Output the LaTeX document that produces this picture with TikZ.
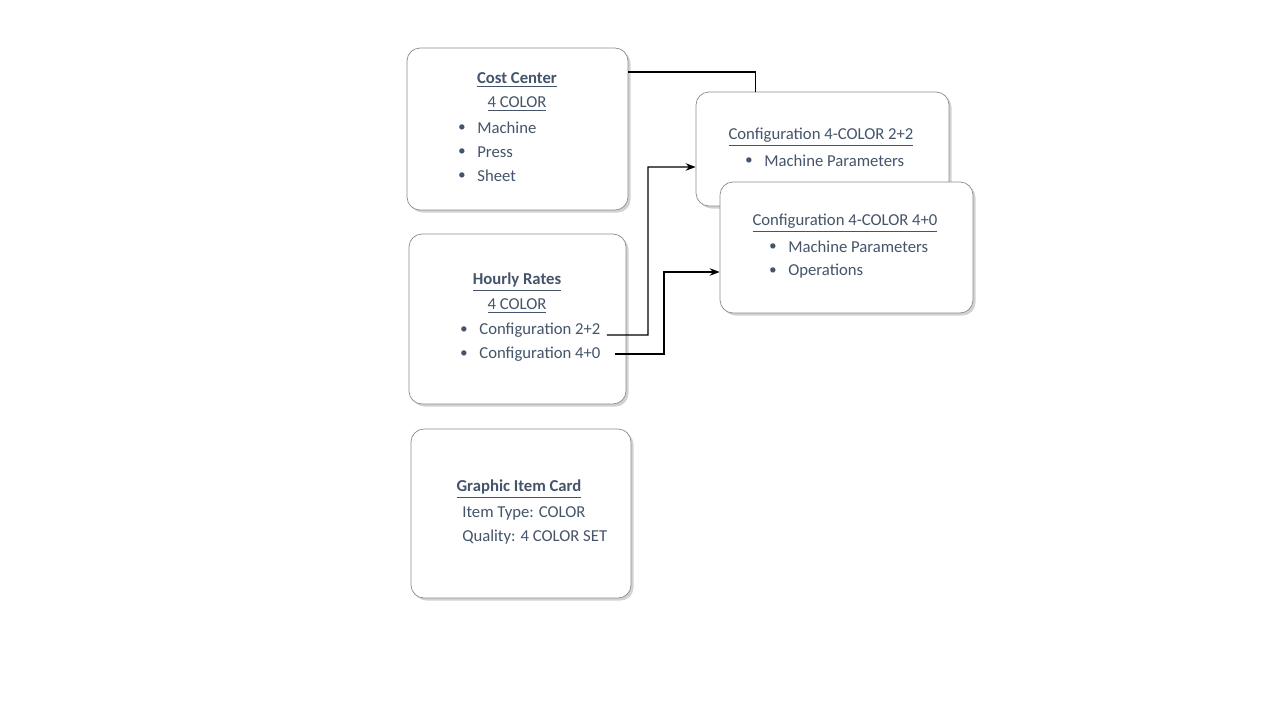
\documentclass[tikz,border=0pt]{standalone}
\usepackage{fontspec}
\setmainfont{Carlito}
\usetikzlibrary{shadows, arrows.meta}
\definecolor{slate}{HTML}{44546A}
\tikzstyle{card} = [draw=black!45, fill=white, rounded corners=0.26cm, drop shadow={shadow xshift=0.05cm, shadow yshift=-0.05cm, fill=black!35}]
\tikzstyle{txt} = [text=slate, inner sep=0pt, font=\fontsize{9.5}{11}\selectfont]
\tikzstyle{head} = [txt, font=\fontsize{9.5}{11}\selectfont\bfseries]
\tikzstyle{item} = [txt, anchor=west]
\tikzstyle{dot} = [txt, font=\fontsize{7}{8}\selectfont]
\tikzstyle{link} = [thick, -{Stealth[length=2mm]}]

\begin{document}
\begin{tikzpicture}
\useasboundingbox (0,0) rectangle (25.6,-14.4);

% cards
\draw [card] (8.14,-0.96) rectangle (12.56,-4.2);
\draw [card] (8.18,-4.68) rectangle (12.52,-8.08);
\draw [card] (8.22,-8.58) rectangle (12.62,-11.96);
\node (c22) [card, minimum width=5.06cm, minimum height=2.28cm] at (16.45,-2.98) {};
\node (c40) [card, minimum width=5.06cm, minimum height=2.62cm] at (16.93,-4.95) {};

% cost center
\node (cc) [head] at (10.34,-1.6) {\underline{Cost Center}};
\node (cc4) [txt] at (10.34,-2.08) {\underline{4 COLOR}};
\foreach \y/\t in {2.56/Machine, 3.04/Press, 3.52/Sheet} {
  \node [dot] at (9.24,-\y) {$\bullet$};
  \node [item] at (9.54,-\y) {\t};
}

% hourly rates
\node (hr) [head] at (10.34,-5.64) {\underline{Hourly Rates}};
\node (hr4) [txt] at (10.34,-6.12) {\underline{4 COLOR}};
\node [dot] at (9.28,-6.6) {$\bullet$};
\node (h22) [item] at (9.58,-6.6) {Configuration 2+2};
\node [dot] at (9.28,-7.08) {$\bullet$};
\node (h40) [item] at (9.58,-7.08) {Configuration 4+0};

% graphic item card
\node (gi) [head] at (10.38,-9.78) {\underline{Graphic Item Card}};
\node (git) [item] at (9.24,-10.26) {Item Type: COLOR};
\node (giq) [item] at (9.24,-10.74) {Quality: 4 COLOR SET};

% configurations
\node (t22) [txt] at (16.42,-2.74) {\underline{Configuration 4-COLOR 2+2}};
\node [dot] at (14.98,-3.22) {$\bullet$};
\node (m22) [item] at (15.28,-3.22) {Machine Parameters};
\node (t40) [txt] at (16.9,-4.46) {\underline{Configuration 4-COLOR 4+0}};
\node [dot] at (15.46,-4.94) {$\bullet$};
\node (m40) [item] at (15.76,-4.94) {Machine Parameters};
\node [dot] at (15.46,-5.42) {$\bullet$};
\node (o40) [item] at (15.76,-5.42) {Operations};

% connectors
\coordinate (ccout) at (12.56,-1.44);
\draw [thick] (ccout) -| ([xshift=1.2cm]c22.north west);
\draw [link] ([xshift=0.12cm,yshift=-0.1cm]h22.east) -- (12.96,-6.7) |- ([yshift=-0.36cm]c22.west);
\draw [link] ([xshift=0.28cm,yshift=-0.0cm]h40.east) -- (13.28,-7.08) |- ([yshift=-0.49cm]c40.west);

\end{tikzpicture}
\end{document}
